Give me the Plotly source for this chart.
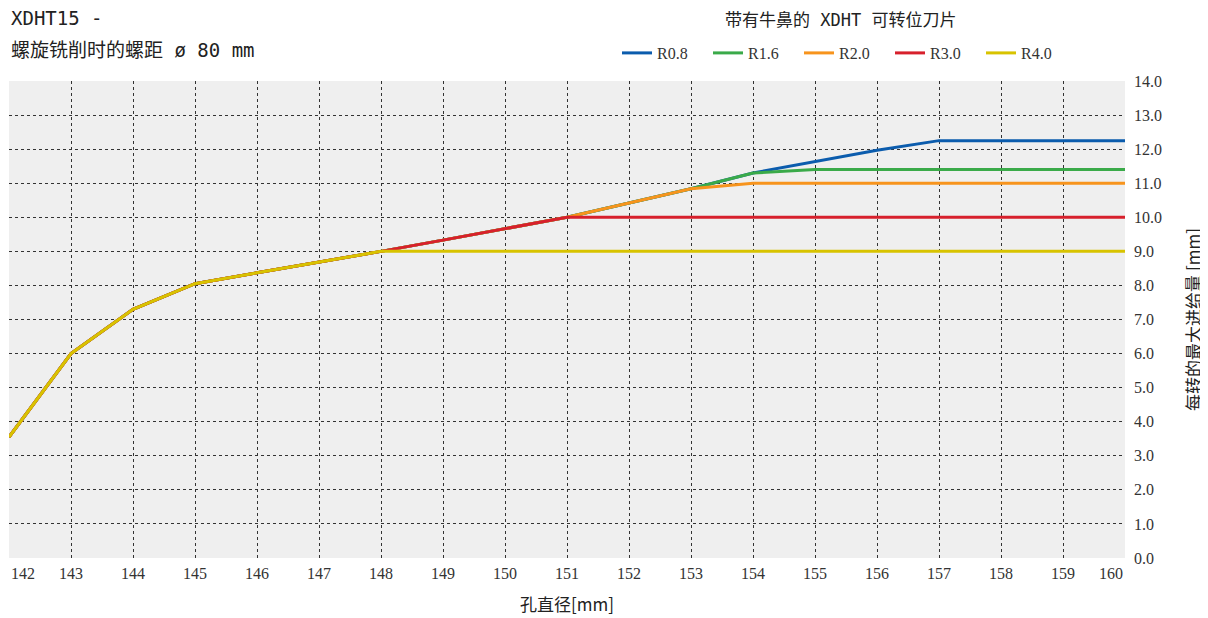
import plotly.graph_objects as go

x_diam = [142, 143, 144, 145, 146, 147, 148, 149, 150, 151, 152, 153, 154, 155, 156, 157, 158, 159, 160]

r08 = [3.55, 6.0, 7.3, 8.05, 8.37, 8.68, 9.0, 9.33, 9.67, 10.0, 10.42, 10.84, 11.3, 11.63, 11.97, 12.25, 12.25, 12.25, 12.25]
r16 = [3.55, 6.0, 7.3, 8.05, 8.37, 8.68, 9.0, 9.33, 9.67, 10.0, 10.42, 10.84, 11.3, 11.4, 11.4, 11.4, 11.4, 11.4, 11.4]
r20 = [3.55, 6.0, 7.3, 8.05, 8.37, 8.68, 9.0, 9.33, 9.67, 10.0, 10.42, 10.84, 11.0, 11.0, 11.0, 11.0, 11.0, 11.0, 11.0]
r30 = [3.55, 6.0, 7.3, 8.05, 8.37, 8.68, 9.0, 9.33, 9.67, 10.0, 10.0, 10.0, 10.0, 10.0, 10.0, 10.0, 10.0, 10.0, 10.0]
r40 = [3.55, 6.0, 7.3, 8.05, 8.37, 8.68, 9.0, 9.0, 9.0, 9.0, 9.0, 9.0, 9.0, 9.0, 9.0, 9.0, 9.0, 9.0, 9.0]

series_names = ["R0.8", "R1.6", "R2.0", "R3.0", "R4.0"]
series_values = [r08, r16, r20, r30, r40]
series_colors = ["#0b5cad", "#3aaa49", "#f7941d", "#d7202c", "#d8c300"]

y_ticks = [0, 1, 2, 3, 4, 5, 6, 7, 8, 9, 10, 11, 12, 13, 14]

title_line1 = "XDHT15 -"
title_line2 = "螺旋铣削时的螺距 ø 80 mm"
title_center = "带有牛鼻的 XDHT 可转位刀片"
x_title = "孔直径[mm]"
y_title = "每转的最大进给量 [mm]"

SERIF = "Liberation Serif, Noto Sans CJK SC, serif"
MONO = "DejaVu Sans Mono, Noto Sans CJK SC, monospace"
CJK = "Noto Sans CJK SC, sans-serif"

# figure geometry (page has an 8px body margin)
W, H = 1200, 610
L, R, T, B = 1, 83, 73, 60
PW, PH = W - L - R, H - T - B


def px(xpage):
    return (xpage - 8 - L) / PW


def py(ypage):
    return (H - B - (ypage - 8)) / PH


fig = go.Figure()
for name, vals, col in zip(series_names, series_values, series_colors):
    fig.add_trace(go.Scatter(x=x_diam, y=vals, mode="lines", name=name,
                             line=dict(color=col, width=3)))

tick_text = [("" if v in (x_diam[0], x_diam[-1]) else str(v)) for v in x_diam]

fig.update_layout(
    width=W, height=H,
    margin=dict(l=L, r=R, t=T, b=B, autoexpand=False),
    paper_bgcolor="white",
    plot_bgcolor="#efefef",
    showlegend=True,
    legend=dict(orientation="h", x=px(617), xanchor="left", y=py(53), yanchor="middle",
                font=dict(family=SERIF, size=16, color="#333"),
                itemwidth=30, entrywidth=46, entrywidthmode="pixels",
                bgcolor="rgba(0,0,0,0)"),
    xaxis=dict(range=[x_diam[0], x_diam[-1]], tickvals=x_diam, ticktext=tick_text,
               showgrid=True, gridcolor="#333", griddash="3px,3px", gridwidth=1,
               zeroline=False, showline=False, ticks="", ticklabelstandoff=4,
               tickfont=dict(family=SERIF, size=16, color="#333"),
               title=dict(text=x_title, font=dict(family=CJK, size=17, color="#222"), standoff=18)),
    yaxis=dict(range=[0, 14], tickvals=y_ticks, tickformat=".1f", side="right",
               showgrid=True, gridcolor="#333", griddash="3px,3px", gridwidth=1,
               zeroline=False, showline=False, ticks="", ticklabelstandoff=8,
               tickfont=dict(family=SERIF, size=16, color="#333"),
               title=dict(text=y_title, font=dict(family=CJK, size=17, color="#222"), standoff=27)),
)

fig.add_annotation(text=title_line1, xref="paper", yref="paper", x=px(9), y=py(18), xanchor="left",
                   yanchor="middle", showarrow=False,
                   font=dict(family=MONO, size=19, color="#222"))
fig.add_annotation(text=title_line2, xref="paper", yref="paper", x=px(9), y=py(50), xanchor="left",
                   yanchor="middle", showarrow=False,
                   font=dict(family=MONO, size=19, color="#222"))
fig.add_annotation(text=title_center, xref="paper", yref="paper", x=px(840), y=py(20),
                   xanchor="center", yanchor="middle", showarrow=False,
                   font=dict(family=MONO, size=17, color="#222"))
fig.add_annotation(text=str(x_diam[0]), xref="x", yref="paper", x=x_diam[0], y=0, xanchor="left",
                   yanchor="top", yshift=-5, showarrow=False,
                   font=dict(family=SERIF, size=16, color="#333"))
fig.add_annotation(text=str(x_diam[-1]), xref="x", yref="paper", x=x_diam[-1], y=0, xanchor="right",
                   yanchor="top", yshift=-5, showarrow=False,
                   font=dict(family=SERIF, size=16, color="#333"))

fig.write_html("out.html")
